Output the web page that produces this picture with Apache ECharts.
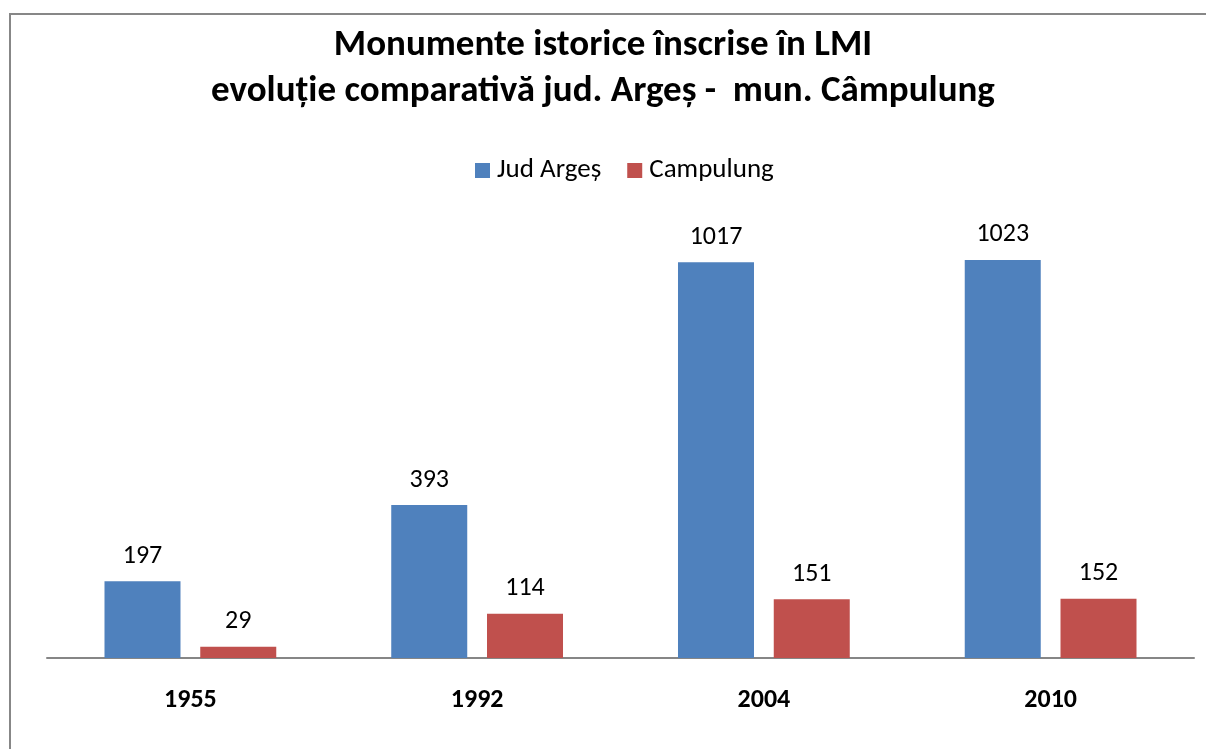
<!DOCTYPE html>
<html style="height: 100%">
<head>
    <meta charset="utf-8">
    <title>Monumente istorice</title>
    <script src="https://cdn.jsdelivr.net/npm/echarts@6/dist/echarts.min.js"></script>
</head>
<body style="height: 100%; margin: 0; background: #fff">
    <div id="main" style="width: 1206px; height: 749px"></div>
    <script type="text/javascript">
        var years = ['1955', '1992', '2004', '2010'];
        var judArges = [197, 393, 1017, 1023];
        var campulung = [29, 114, 151, 152];
        var seriesNames = ['Jud Argeș', 'Campulung'];

        var font = 'Carlito, "Open Sans", "Noto Sans", sans-serif';
        var myChart = echarts.init(document.getElementById('main'));

        var option = {
            backgroundColor: '#fff',
            graphic: [{
                type: 'rect',
                shape: { x: 10, y: 14, width: 1220, height: 760 },
                style: { fill: 'none', stroke: '#878787', lineWidth: 2 },
                silent: true
            }],
            title: {
                text: 'Monumente istorice înscrise în LMI\nevoluție comparativă jud. Argeș -  mun. Câmpulung',
                left: 'center',
                top: 18,
                textStyle: {
                    fontFamily: font,
                    fontSize: 37,
                    fontWeight: 'bold',
                    color: '#000',
                    lineHeight: 46
                }
            },
            legend: {
                data: seriesNames,
                top: 152,
                left: 470,
                itemWidth: 15,
                itemHeight: 15,
                itemGap: 26,
                icon: 'rect',
                textStyle: { fontFamily: font, fontSize: 27, color: '#000', padding: [0, 0, 0, 2] }
            },
            grid: {
                left: 47,
                right: 12,
                top: 191,
                bottom: 91,
                containLabel: false
            },
            xAxis: {
                type: 'category',
                data: years,
                axisLine: { lineStyle: { color: '#868686', width: 2 } },
                axisTick: { show: false },
                axisLabel: {
                    fontFamily: font,
                    fontSize: 26,
                    fontWeight: 'bold',
                    color: '#000',
                    margin: 29
                }
            },
            yAxis: {
                type: 'value',
                min: 0,
                max: 1200,
                interval: 200,
                show: false
            },
            series: [
                {
                    name: seriesNames[0],
                    type: 'bar',
                    data: judArges,
                    barWidth: 76,
                    barGap: '26%',
                    itemStyle: { color: '#4f81bd' },
                    label: {
                        show: true,
                        position: 'top',
                        distance: 12,
                        fontFamily: font,
                        fontSize: 26,
                        color: '#000'
                    }
                },
                {
                    name: seriesNames[1],
                    type: 'bar',
                    data: campulung,
                    barWidth: 76,
                    itemStyle: { color: '#c0504d' },
                    label: {
                        show: true,
                        position: 'top',
                        distance: 12,
                        fontFamily: font,
                        fontSize: 26,
                        color: '#000'
                    }
                }
            ]
        };

        myChart.setOption(option);
    </script>
</body>
</html>
